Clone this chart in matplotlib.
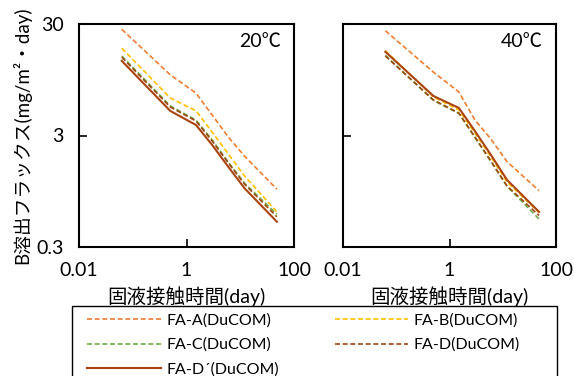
import numpy as np
import matplotlib
matplotlib.use("Agg")
import matplotlib.pyplot as plt
from matplotlib.patches import Rectangle

plt.rcParams['font.family'] = ['Lato', 'Noto Sans CJK JP', 'DejaVu Sans']

# 固液接触時間 (day)
t = [0.0625, 0.5, 1.5, 3, 6, 12, 48]

# B溶出フラックス (mg/m2・day), 20℃
flux20 = {
    'FA-A': [26.9, 10.5, 7.2, 4.58, 2.91, 1.96, 0.99],
    'FA-B': [18.2, 6.5, 5.0, 3.22, 2.05, 1.30, 0.62],
    'FA-C': [15.5, 5.52, 4.13, 2.74, 1.73, 1.12, 0.59],
    'FA-D': [15.1, 5.40, 4.05, 2.68, 1.70, 1.10, 0.56],
    'FA-D2': [14.0, 4.98, 3.73, 2.47, 1.57, 1.01, 0.506],
}
# 40℃
flux40 = {
    'FA-A': [26.1, 11.1, 7.37, 4.13, 2.79, 1.75, 0.96],
    'FA-B': [17.3, 6.64, 5.08, 3.16, 1.93, 1.15, 0.61],
    'FA-C': [15.7, 6.18, 4.72, 2.88, 1.75, 1.05, 0.535],
    'FA-D': [15.5, 6.25, 4.77, 2.91, 1.77, 1.06, 0.575],
    'FA-D2': [16.9, 6.78, 5.30, 3.29, 2.01, 1.20, 0.62],
}

labels = {
    'FA-A': 'FA-A(DuCOM)',
    'FA-B': 'FA-B(DuCOM)',
    'FA-C': 'FA-C(DuCOM)',
    'FA-D': 'FA-D(DuCOM)',
    'FA-D2': 'FA-D\u00b4(DuCOM)',
}
styles = {
    'FA-A': dict(color='#ED7D31', ls=(0, (3, 1.6)), lw=1.2),
    'FA-B': dict(color='#FFC000', ls=(0, (3, 1.6)), lw=1.2),
    'FA-C': dict(color='#70AD47', ls=(0, (3, 1.6)), lw=1.2),
    'FA-D': dict(color='#9E480E', ls=(0, (3, 1.6)), lw=1.2),
    'FA-D2': dict(color='#A9430F', ls='-', lw=1.5),
}

fig = plt.figure(figsize=(5.74, 3.76), dpi=100)
ax1 = fig.add_axes([79 / 574, 1 - 247 / 376, 215 / 574, 223 / 376])
ax2 = fig.add_axes([343 / 574, 1 - 247 / 376, 213 / 574, 223 / 376])

handles = {}
for ax, data, temp in [(ax1, flux20, '20\u2103'), (ax2, flux40, '40\u2103')]:
    for key in ['FA-A', 'FA-B', 'FA-C', 'FA-D', 'FA-D2']:
        h, = ax.plot(t, data[key], label=labels[key], **styles[key])
        handles[key] = h
    ax.set_xscale('log')
    ax.set_yscale('log')
    ax.set_xlim(0.01, 100)
    ax.set_ylim(0.3, 30)
    ax.set_xticks([0.01, 1, 100])
    ax.set_xticklabels(['0.01', '1', '100'])
    ax.set_yticks([0.3, 3, 30])
    ax.set_yticklabels(['0.3', '3', '30'])
    ax.minorticks_off()
    ax.tick_params(direction='in', length=6, width=1.2, labelsize=14, pad=11)
    for s in ax.spines.values():
        s.set_linewidth(1.5)
    ax.set_xlabel('固液接触時間(day)', fontsize=14, labelpad=5)
    ax.text(0.94, 0.92, temp, transform=ax.transAxes, ha='right', va='center',
            fontsize=14)

ax2.set_yticklabels([])
ax1.set_ylabel('B溶出フラックス(mg/m\u00b2・day)', fontsize=13.5, labelpad=4)

# legend box drawn separately so it can run past the bottom edge
fig.add_artist(Rectangle((72 / 574, -0.05), 485 / 574, 1 - 306 / 376 + 0.05,
                         transform=fig.transFigure, fill=False,
                         edgecolor='black', lw=1.0))
order = ['FA-A', 'FA-C', 'FA-D2', 'FA-B', 'FA-D']
leg = fig.legend([handles[k] for k in order], [labels[k] for k in order],
                 ncol=2, loc='upper left',
                 bbox_to_anchor=(80 / 574, 1 - 306 / 376),
                 borderaxespad=0, fontsize=11.5, handlelength=4.6,
                 handletextpad=0.35, columnspacing=3.5, labelspacing=0.64,
                 borderpad=0.45, frameon=False)

fig.savefig('out.png', dpi=100)
